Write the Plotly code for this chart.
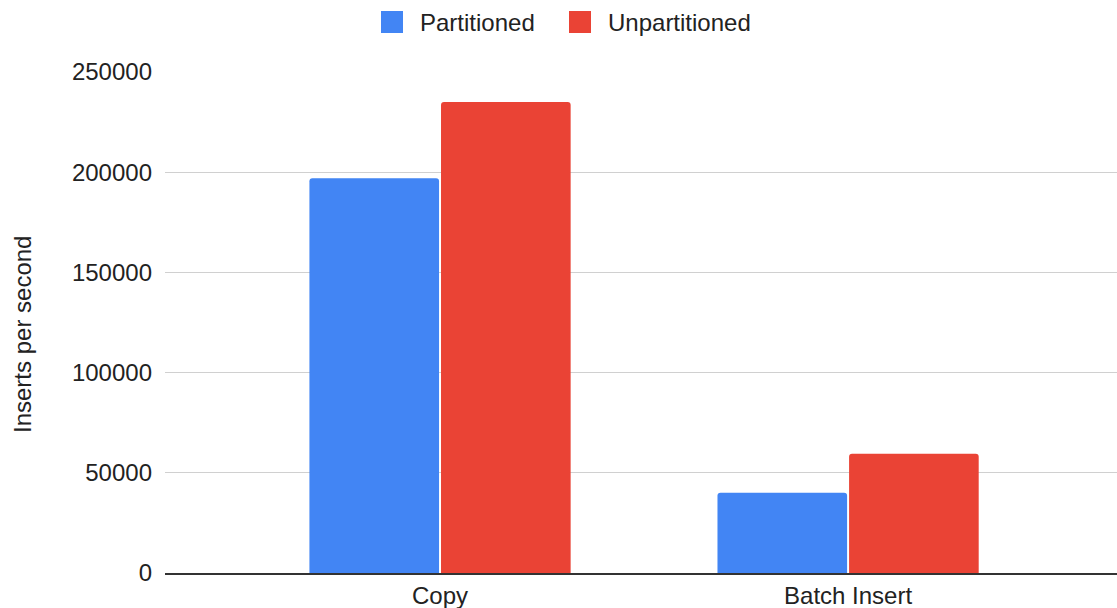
import plotly.graph_objects as go

categories = ["Copy", "Batch Insert"]
partitioned = [197000, 40000]
unpartitioned = [235000, 59500]
series_names = ["Partitioned", "Unpartitioned"]
colors = ["#4285F4", "#EA4335"]
y_ticks = [0, 50000, 100000, 150000, 200000, 250000]

W, H = 1117, 608
L, R, T, B = 165, 0, 72, 35
pw, ph = W - L - R, H - T - B
FS = 24

fig = go.Figure()
for name, vals, col in zip(series_names, [partitioned, unpartitioned], colors):
    fig.add_trace(go.Bar(x=categories, y=vals, name=name, marker_color=col,
                         marker_line_width=0, showlegend=False))

fig.update_layout(
    width=W, height=H,
    margin=dict(l=L, r=R, t=T, b=B),
    paper_bgcolor="white", plot_bgcolor="white",
    barmode="group", bargap=0.355, bargroupgap=0.015,
    barcornerradius=3,
    font=dict(family="Liberation Sans, Arial, sans-serif", size=FS, color="#222"),
    xaxis=dict(range=[-0.674, 1.659], showgrid=False, showline=True,
               linecolor="#333", linewidth=1.5, ticks="", tickfont=dict(size=FS),
               ticklabelstandoff=0),
    yaxis=dict(range=[0, 250000], tickvals=y_ticks, ticktext=[str(v) for v in y_ticks],
               showgrid=True, gridcolor="#d0d0d0", gridwidth=1, zeroline=False,
               ticks="", ticklabelstandoff=12, tickfont=dict(size=FS)),
)

def px_x(p):
    return (p - L) / pw

def px_y(p):
    return 1 - (p - T) / ph

# y axis title
fig.add_annotation(text="Inserts per second", xref="paper", yref="paper",
                   x=px_x(22), y=px_y(335), textangle=-90, showarrow=False,
                   font=dict(size=FS, color="#222"), xanchor="center", yanchor="middle")

# custom legend
legend_items = [(381, 418), (569, 606)]
for (sx, tx), name, col in zip(legend_items, series_names, colors):
    fig.add_shape(type="rect", xref="paper", yref="paper",
                  x0=px_x(sx), x1=px_x(sx + 22), y0=px_y(33), y1=px_y(11),
                  fillcolor=col, line=dict(width=0))
    fig.add_annotation(text=name, xref="paper", yref="paper", x=px_x(tx), y=px_y(22),
                       xanchor="left", yanchor="middle", showarrow=False,
                       font=dict(size=FS, color="#222"))

fig.write_html("out.html")
